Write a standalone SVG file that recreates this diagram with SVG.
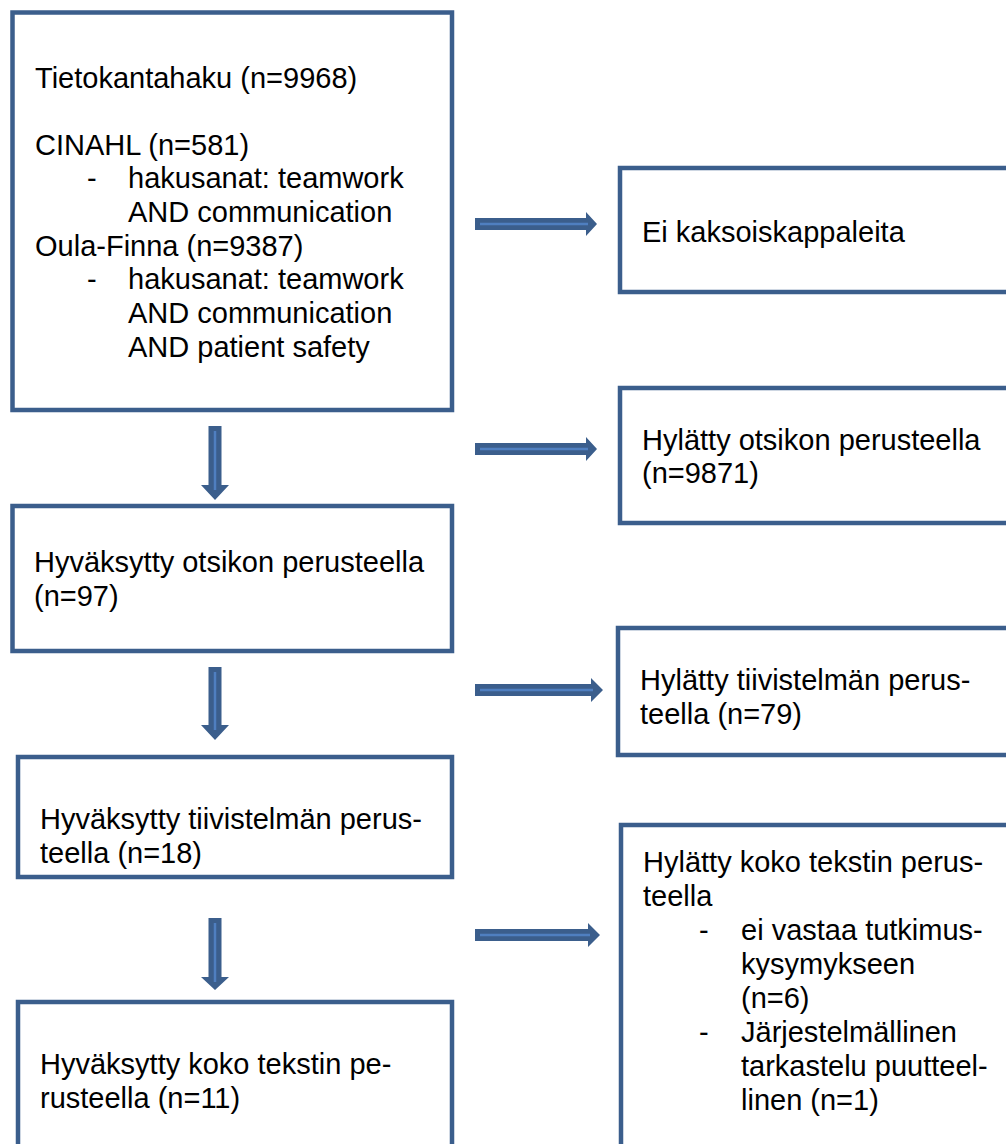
<svg xmlns="http://www.w3.org/2000/svg" width="1006" height="1144" viewBox="0 0 1006 1144">
<style>
.box{fill:#ffffff;stroke:#3B5E8C;stroke-width:4.5}
.t{font-family:"Liberation Sans",Arial,sans-serif;font-size:29px;fill:#000000}
.arr{fill:#3B5E8C}
.hl{stroke:#4F7FC0;stroke-width:2.5;fill:none}
</style>
<rect width="1006" height="1144" fill="#ffffff"/>
<g id="connectors">
  <g id="h1"><polygon class="arr" points="475,218 586,218 586,212 597,224 586,236 586,230 475,230"/><line class="hl" x1="480" y1="224" x2="588" y2="224"/></g>
  <g id="h2"><polygon class="arr" points="475,443 586,443 586,437 597,449 586,461 586,455 475,455"/><line class="hl" x1="480" y1="449" x2="588" y2="449"/></g>
  <g id="h3"><polygon class="arr" points="475,684 591,684 591,678 603,690 591,702 591,696 475,696"/><line class="hl" x1="480" y1="690" x2="593" y2="690"/></g>
  <g id="h4"><polygon class="arr" points="475,929 588,929 588,923 600,935 588,947 588,941 475,941"/><line class="hl" x1="480" y1="935" x2="590" y2="935"/></g>
  <g id="v1"><polygon class="arr" points="208.5,426 221.5,426 221.5,485 229,485 215,500 201,485 208.5,485"/><line class="hl" x1="215" y1="431" x2="215" y2="490"/></g>
  <g id="v2"><polygon class="arr" points="208.5,667 221.5,667 221.5,725 229,725 215,740 201,725 208.5,725"/><line class="hl" x1="215" y1="672" x2="215" y2="730"/></g>
  <g id="v3"><polygon class="arr" points="208.5,918 221.5,918 221.5,977 229,977 215,990 201,977 208.5,977"/><line class="hl" x1="215" y1="923" x2="215" y2="982"/></g>
</g>
<g id="n1">
  <rect class="box" x="12.5" y="12.5" width="439.5" height="397.5"/>
  <text class="t" x="35" y="88">Tietokantahaku (n=9968)</text>
  <text class="t" x="35" y="155">CINAHL (n=581)</text>
  <text class="t" x="87" y="188">-</text>
  <text class="t" x="128" y="188">hakusanat: teamwork</text>
  <text class="t" x="128" y="222">AND communication</text>
  <text class="t" x="35" y="256">Oula-Finna (n=9387)</text>
  <text class="t" x="87" y="289">-</text>
  <text class="t" x="128" y="289">hakusanat: teamwork</text>
  <text class="t" x="128" y="323">AND communication</text>
  <text class="t" x="128" y="357">AND patient safety</text>
</g>
<g id="n2">
  <rect class="box" x="620" y="168" width="400" height="124"/>
  <text class="t" x="642" y="242">Ei kaksoiskappaleita</text>
</g>
<g id="n3">
  <rect class="box" x="620" y="388" width="400" height="135"/>
  <text class="t" x="642" y="450">Hylätty otsikon perusteella</text>
  <text class="t" x="642" y="483">(n=9871)</text>
</g>
<g id="n4">
  <rect class="box" x="12.5" y="506" width="439.5" height="145"/>
  <text class="t" x="34" y="572">Hyväksytty otsikon perusteella</text>
  <text class="t" x="34" y="606">(n=97)</text>
</g>
<g id="n5">
  <rect class="box" x="618" y="628" width="402" height="127"/>
  <text class="t" x="640" y="690">Hylätty tiivistelmän perus-</text>
  <text class="t" x="640" y="724">teella (n=79)</text>
</g>
<g id="n6">
  <rect class="box" x="18" y="757" width="434" height="120"/>
  <text class="t" x="40" y="829">Hyväksytty tiivistelmän perus-</text>
  <text class="t" x="40" y="863">teella (n=18)</text>
</g>
<g id="n7">
  <rect class="box" x="621" y="825" width="400" height="330"/>
  <text class="t" x="643" y="872">Hylätty koko tekstin perus-</text>
  <text class="t" x="643" y="906">teella</text>
  <text class="t" x="699" y="940">-</text>
  <text class="t" x="741" y="940">ei vastaa tutkimus-</text>
  <text class="t" x="741" y="974">kysymykseen</text>
  <text class="t" x="741" y="1008">(n=6)</text>
  <text class="t" x="699" y="1042">-</text>
  <text class="t" x="741" y="1042">Järjestelmällinen</text>
  <text class="t" x="741" y="1076">tarkastelu puutteel-</text>
  <text class="t" x="741" y="1110">linen (n=1)</text>
</g>
<g id="n8">
  <rect class="box" x="18" y="1002" width="434" height="160"/>
  <text class="t" x="40" y="1074">Hyväksytty koko tekstin pe-</text>
  <text class="t" x="40" y="1108">rusteella (n=11)</text>
</g>
</svg>
